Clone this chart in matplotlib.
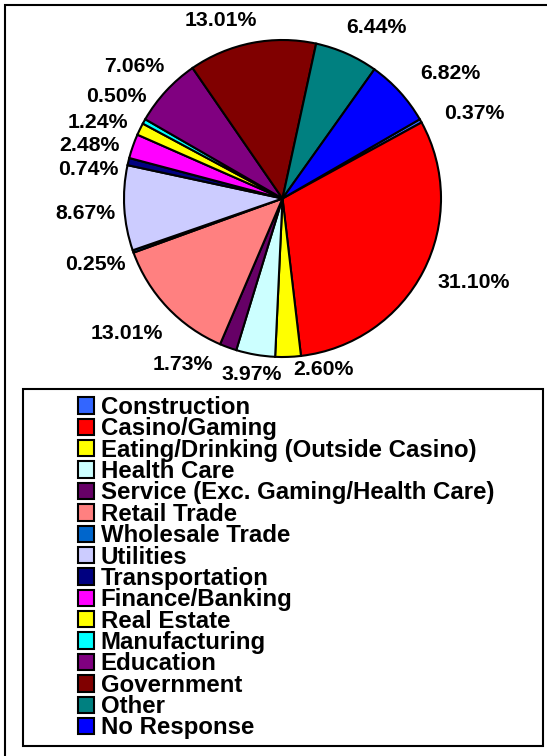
import numpy as np
import matplotlib
matplotlib.use("Agg")
import matplotlib.pyplot as plt
from matplotlib.patches import Rectangle

plt.rcParams['font.family'] = ['Liberation Sans', 'DejaVu Sans']
plt.rcParams['font.weight'] = 'bold'

# data
categories = ["Construction", "Casino/Gaming", "Eating/Drinking (Outside Casino)",
              "Health Care", "Service (Exc. Gaming/Health Care)", "Retail Trade",
              "Wholesale Trade", "Utilities", "Transportation", "Finance/Banking",
              "Real Estate", "Manufacturing", "Education", "Government", "Other",
              "No Response"]
shares = [0.37, 31.10, 2.60, 3.97, 1.73, 13.01, 0.25, 8.67, 0.74, 2.48,
          1.24, 0.50, 7.06, 13.01, 6.44, 6.82]
colors = ["#3366FF", "#FF0000", "#FFFF00", "#CCFFFF", "#660066", "#FF8080",
          "#0066CC", "#CCCCFF", "#000080", "#FF00FF", "#FFFF00", "#00FFFF",
          "#800080", "#800000", "#008080", "#0000FF"]

# label placement (angle nudge in degrees, distance of label centre in radii)
lab_shift = [-5.5, 3.5, 11.5, 0, -11, -2.5, 0, 1, 5, 4, 3.5, -2.5, 1, 8, -5, -5.5]
lab_dist = [1.32, 1.32, 1.11, 1.13, 1.22, 1.30, 1.25, 1.25, 1.24, 1.26,
            1.26, 1.23, 1.25, 1.19, 1.23, 1.32]

W, H = 547, 756
fig = plt.figure(figsize=(W / 100, H / 100), dpi=100)

cx, cy, r = 282.5, 198.5, 158.5
ax = fig.add_axes([(cx - r) / W, (H - cy - r) / H, 2 * r / W, 2 * r / H])
start = 30
wedges, _ = ax.pie(shares, colors=colors, startangle=start, counterclock=False,
                   wedgeprops=dict(edgecolor="black", linewidth=1.5))
ax.set_xlim(-1, 1)
ax.set_ylim(-1, 1)
ax.axis('off')

cum = np.cumsum([0] + shares[:-1])
for i, v in enumerate(shares):
    mid = start - (cum[i] + v / 2) * 3.6 + lab_shift[i]
    t = np.deg2rad(mid)
    ax.text(lab_dist[i] * np.cos(t), lab_dist[i] * np.sin(t), "%.2f%%" % v,
            ha="center", va="center", fontsize=15.3, fontweight="bold",
            clip_on=False)

# outer frame (runs off the right and bottom edge)
fig.add_artist(Rectangle((5 / W, -0.05), 1.2, 1 - 5 / H + 0.05,
                         transform=fig.transFigure, fill=False,
                         edgecolor="black", linewidth=1.5))
# legend frame
fig.add_artist(Rectangle((23 / W, (H - 746) / H), 520 / W, 357 / H,
                         transform=fig.transFigure, fill=False,
                         edgecolor="black", linewidth=1.5))

fig.legend(wedges, categories, loc="upper left",
           bbox_to_anchor=(78 / W, (H - 396) / H), frameon=False,
           prop=dict(weight="bold", size=17.3),
           handlelength=0.67, handleheight=0.67, handletextpad=0.27,
           labelspacing=-0.068, borderpad=0, borderaxespad=0)

fig.savefig("out.png", dpi=100)
